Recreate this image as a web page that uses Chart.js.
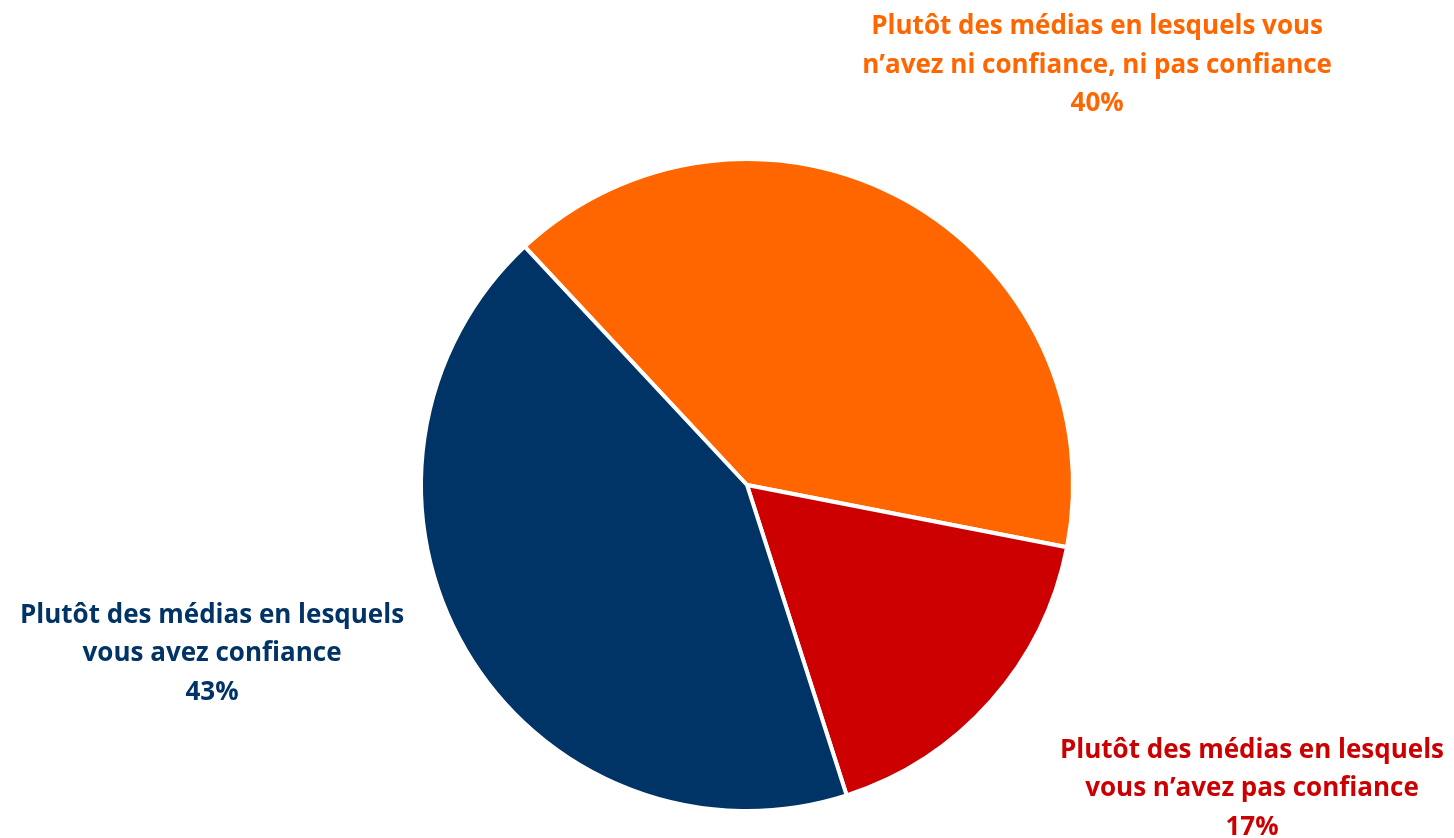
<!DOCTYPE html>
<html>
<head>
<meta charset="utf-8">
<script src="https://cdn.jsdelivr.net/npm/chart.js@4"></script>
<style>
  html, body { margin: 0; padding: 0; background: #fff; }
  #wrap { width: 1454px; height: 838px; }
</style>
</head>
<body>
<div id="wrap"><canvas id="chart1"></canvas></div>
<script>
const labels = [
    ['Plutôt des médias en lesquels vous', 'n\u2019avez ni confiance, ni pas confiance'],
    ['Plutôt des médias en lesquels', 'vous n\u2019avez pas confiance'],
    ['Plutôt des médias en lesquels', 'vous avez confiance']
];
const values = [40, 17, 43];
const colors = ['#FF6600', '#CC0000', '#003366'];
// label anchor, in units of the pie radius from its centre (first line)
const labelPos = [[1.074, -1.405], [1.549, 0.814], [-1.641, 0.400]];

const outsideLabels = {
    id: 'outsideLabels',
    afterDatasetsDraw(chart) {
        const ctx = chart.ctx;
        const arcs = chart.getDatasetMeta(0).data;
        ctx.save();
        ctx.font = 'bold 26px "Open Sans"';
        ctx.textAlign = 'center';
        ctx.textBaseline = 'middle';
        arcs.forEach((arc, i) => {
            const r = arc.outerRadius;
            const x = arc.x + labelPos[i][0] * r;
            let y = arc.y + labelPos[i][1] * r;
            ctx.fillStyle = colors[i];
            const lines = labels[i].concat([values[i] + '%']);
            lines.forEach(line => {
                ctx.fillText(line, x, y);
                y += 38.5;
            });
        });
        ctx.restore();
    }
};

const chart1 = document.getElementById('chart1');
const myChart = new Chart(chart1, {
    type: 'pie',
    data: {
        labels: labels.map(l => l.join(' ')),
        datasets: [{
            data: values,
            backgroundColor: colors,
            borderColor: '#ffffff',
            borderWidth: 4
        }]
    },
    options: {
        responsive: true,
        maintainAspectRatio: false,
        animation: false,
        rotation: -43,
        layout: {
            padding: { top: 157, bottom: 25, left: 419, right: 379 }
        },
        plugins: {
            legend: { display: false },
            tooltip: { enabled: false }
        }
    },
    plugins: [outsideLabels]
});
</script>
</body>
</html>
